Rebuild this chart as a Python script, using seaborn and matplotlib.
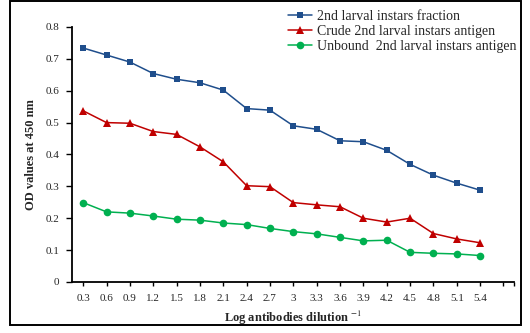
import numpy as np
import pandas as pd
import matplotlib
matplotlib.use("Agg")
import matplotlib.pyplot as plt
import seaborn as sns
from matplotlib.patches import Rectangle

dilutions = ["0.3", "0.6", "0.9", "1.2", "1.5", "1.8", "2.1", "2.4", "2.7", "3",
             "3.3", "3.6", "3.9", "4.2", "4.5", "4.8", "5.1", "5.4"]
fraction = [0.734, 0.712, 0.690, 0.654, 0.636, 0.625, 0.602, 0.544, 0.539, 0.490,
            0.479, 0.443, 0.440, 0.413, 0.369, 0.335, 0.310, 0.288]
crude = [0.537, 0.500, 0.498, 0.472, 0.463, 0.424, 0.377, 0.302, 0.299, 0.249,
         0.242, 0.236, 0.200, 0.188, 0.200, 0.152, 0.135, 0.123]
unbound = [0.249, 0.220, 0.216, 0.207, 0.197, 0.194, 0.185, 0.180, 0.168, 0.158,
           0.151, 0.140, 0.129, 0.131, 0.093, 0.090, 0.088, 0.083]
series_names = ["2nd larval instars fraction", "Crude 2nd larval instars antigen",
                "Unbound  2nd larval instars antigen"]
colors = ["#1F4E8C", "#C00000", "#00B050"]
markers = ["s", "^", "o"]
msizes = [5, 6, 5.5]

sns.set_theme(style="white")
plt.rcParams['font.family'] = ['Liberation Serif', 'DejaVu Serif']
plt.rcParams['mathtext.fontset'] = 'stix'

pos = np.arange(len(dilutions))
df = pd.DataFrame({
    "pos": np.tile(pos, 3),
    "od": fraction + crude + unbound,
    "series": np.repeat(series_names, len(dilutions)),
})

fig = plt.figure(figsize=(5.30, 3.33), dpi=100)
ax = fig.add_axes([0.1358, 0.1532, 0.8340, 0.7658])

for name, c, m, ms in zip(series_names, colors, markers, msizes):
    sub = df[df["series"] == name]
    sns.lineplot(data=sub, x="pos", y="od", ax=ax, color=c, marker=m,
                 markersize=ms, markeredgewidth=0, linewidth=1.1, label=name)

ax.set_xlim(-0.48, 18.45)
ax.set_ylim(0, 0.8)
ax.set_xticks(np.arange(19))
ax.set_xticklabels(dilutions + [""])
ax.set_xticks([18.45], minor=True)
ax.set_yticks(np.arange(0, 0.81, 0.1))
ax.set_yticklabels(["0"] + [f"{v:.1f}" for v in np.arange(0.1, 0.81, 0.1)])
ax.tick_params(axis="x", which="both", direction="out", length=3, width=1,
               color="black", labelsize=8, pad=6, bottom=True)
ax.tick_params(axis="y", direction="out", length=4, width=1, color="black",
               labelsize=8, pad=5, left=True)
for s in ["top", "right"]:
    ax.spines[s].set_visible(False)
for s in ["left", "bottom"]:
    ax.spines[s].set_color("black")
    ax.spines[s].set_linewidth(1.3)

ax.set_xlabel(r"Log antibodies dilution $^{-1}$", fontsize=9,
              fontweight="bold", labelpad=4)
ax.set_ylabel("OD values at 450 nm", fontsize=9, fontweight="bold", labelpad=6)

leg = ax.legend(loc="upper left", bbox_to_anchor=(0.489, 1.068), frameon=False,
                fontsize=10, handlelength=1.75, handletextpad=0.35,
                labelspacing=0.15, borderaxespad=0, borderpad=0)

fig.patches.append(Rectangle((0.019, 0.024), 0.964, 0.973, transform=fig.transFigure,
                             fill=False, edgecolor="black", linewidth=1.4))

fig.savefig("out.png", dpi=100)
